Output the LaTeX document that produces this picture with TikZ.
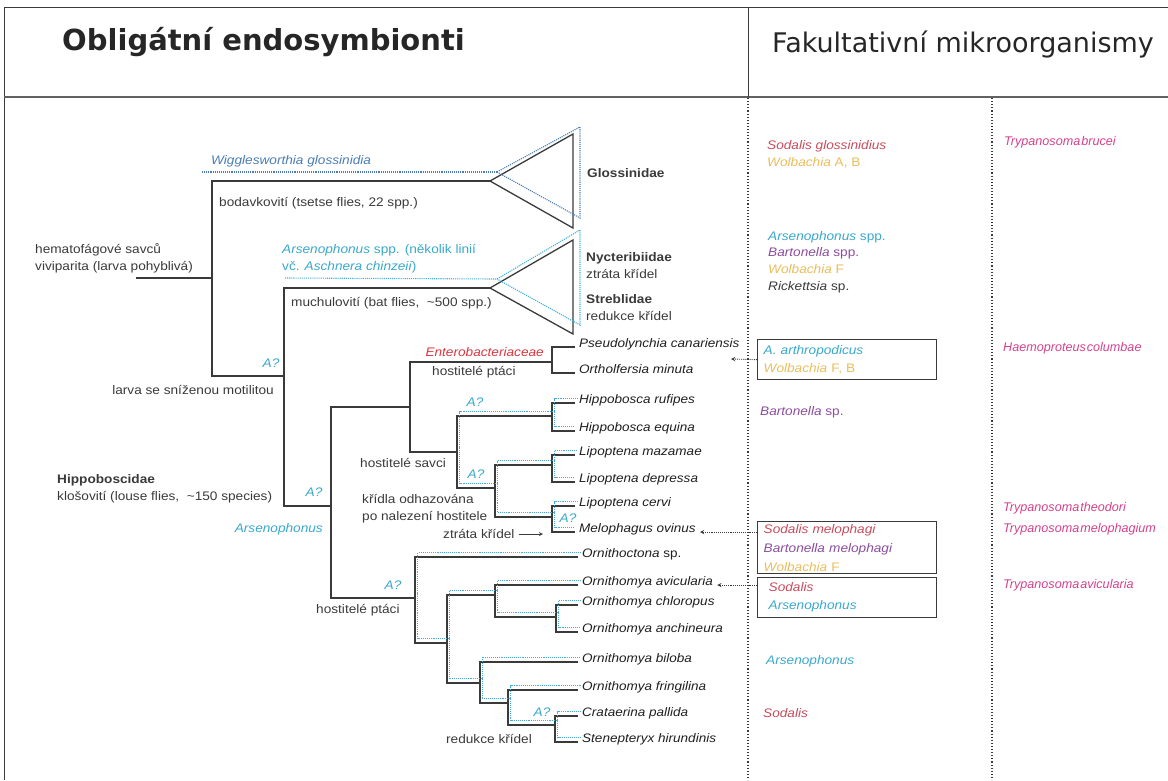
\documentclass[tikz,border=0pt]{standalone}
\usepackage{fontspec}
\setmainfont{Liberation Sans}[FakeStretch=1.1]
\newfontfamily\headfont{DejaVu Sans}
\newfontfamily\pinkfont{Liberation Sans}[WordSpace=0.3]
\usetikzlibrary{arrows,positioning,calc}

\definecolor{linegray}{HTML}{3A3A3A}
\definecolor{wigblue}{HTML}{4A7DB5}
\definecolor{arsblue}{HTML}{38A8CC}
\definecolor{arsline}{HTML}{40B0D8}
\definecolor{entred}{HTML}{D8363E}
\definecolor{sodred}{HTML}{C94B5C}
\definecolor{wolb}{HTML}{E8BE5C}
\definecolor{bart}{HTML}{8B4D9E}
\definecolor{trypink}{HTML}{D4418C}

\tikzset{
  branch/.style={draw=linegray, line width=1.3pt},
  arsdot/.style={draw=arsline, line width=1.1pt, densely dotted},
  wigdot/.style={draw=wigblue, line width=1.1pt, densely dotted},
  lbl/.style={inner sep=0pt, anchor=west, align=left, text=linegray,
    font=\fontsize{12.4}{17}\selectfont},
  leaf/.style={inner ysep=0pt, inner xsep=4pt, anchor=base west, text=black!88,
    font=\fontsize{12.3}{14}\selectfont\itshape},
  aq/.style={inner sep=0pt, text=arsblue, font=\fontsize{12.4}{14}\selectfont\itshape},
  pinktxt/.style={inner sep=0pt, anchor=west, text=trypink,
    font=\pinkfont\fontsize{12.6}{14}\selectfont\itshape},
  infobox/.style={draw=linegray, line width=1.3pt, anchor=north west, align=left,
    minimum width=179pt, text width=167pt, inner xsep=6pt, inner ysep=2pt,
    font=\fontsize{12.4}{18}\selectfont},
  refarrow/.style={draw=linegray, line width=0.9pt, densely dotted, ->, >=stealth},
}

\begin{document}
\begin{tikzpicture}[x=1pt, y=-1pt]
\useasboundingbox (0,0) rectangle (1168,780);

% frame and columns
\draw[linegray, line width=1pt] (1168,7) -- (4,7) -- (4,780);
\draw[linegray!80, line width=2.2pt] (4,97) -- (1168,97);
\draw[linegray, line width=0.8pt] (748,7) -- (748,97);
\draw[linegray, line width=1.1pt, dotted] (748,98) -- (748,780);
\draw[linegray, line width=1.1pt, dotted] (992,98) -- (992,780);

\node[anchor=base west, inner sep=0pt, text=black!85,
  font=\headfont\bfseries\fontsize{29}{30}\selectfont] (title) at (62,50) {Obligátní endosymbionti};
\node[anchor=base west, inner sep=0pt, text=black!85,
  font=\headfont\fontsize{27}{28}\selectfont] (fakult) at (772,52) {Fakultativní mikroorganismy};

% tree nodes
\coordinate (root) at (136,278);
\coordinate (n0) at (212,278);
\coordinate (glo) at (490,181);
\coordinate (nyc) at (490,288);
\coordinate (n1) at (284,376);
\coordinate (hip) at (331,506);
\coordinate (hpb) at (410,407);
\coordinate (ent) at (552,362);
\coordinate (mam) at (457,452);
\coordinate (hbo) at (552,416);
\coordinate (lmv) at (495,488);
\coordinate (lpt) at (552,465);
\coordinate (mlv) at (552,517);
\coordinate (orn) at (415,598);
\coordinate (omy) at (447,643);
\coordinate (oma) at (495,595);
\coordinate (omc) at (556,617);
\coordinate (omb) at (480,683);
\coordinate (omf) at (508,703);
\coordinate (cst) at (555,725);

% leaves
\node[leaf] (pse) at (575,347) {Pseudolynchia canariensis};
\node[leaf] (ort) at (575,373) {Ortholfersia minuta};
\node[leaf] (hru) at (575,403) {Hippobosca rufipes};
\node[leaf] (heq) at (575,431) {Hippobosca equina};
\node[leaf] (lma) at (575,455) {Lipoptena mazamae};
\node[leaf] (lde) at (575,482) {Lipoptena depressa};
\node[leaf] (lce) at (575,506) {Lipoptena cervi};
\node[leaf] (mov) at (575,532) {Melophagus ovinus};
\node[leaf] (osp) at (578,557) {Ornithoctona \upshape sp.};
\node[leaf] (oav) at (578,585) {Ornithomya avicularia};
\node[leaf] (och) at (578,605) {Ornithomya chloropus};
\node[leaf] (oan) at (578,632) {Ornithomya anchineura};
\node[leaf] (obi) at (578,662) {Ornithomya biloba};
\node[leaf] (ofr) at (578,690) {Ornithomya fringilina};
\node[leaf] (cpa) at (578,716) {Crataerina pallida};
\node[leaf] (sth) at (578,742) {Stenepteryx hirundinis};

% solid branches
\draw[branch] (root) -- (n0) |- (glo);
\draw[branch] (glo) -- ++(83,-47) -- ++(0,94) -- cycle;
\draw[branch] (n0) |- (n1);
\draw[branch] (n1) |- (nyc);
\draw[branch] (nyc) -- ++(83,-48) -- ++(0,94) -- cycle;
\draw[branch] (n1) |- (hip);
\draw[branch] (hip) |- (hpb) (hip) |- (orn);
\draw[branch] (hpb) |- (ent) (hpb) |- (mam);
\draw[branch] (ent) |- (pse.base west) (ent) |- (ort.base west);
\draw[branch] (mam) |- (hbo) (mam) |- (lmv);
\draw[branch] (hbo) |- (hru.base west) (hbo) |- (heq.base west);
\draw[branch] (lmv) |- (lpt) (lmv) |- (mlv);
\draw[branch] (lpt) |- (lma.base west) (lpt) |- (lde.base west);
\draw[branch] (mlv) |- (lce.base west) (mlv) |- (mov.base west);
\draw[branch] (orn) |- (osp.base west) (orn) |- (omy);
\draw[branch] (omy) |- (oma) (omy) |- (omb);
\draw[branch] (oma) |- (oav.base west) (oma) |- (omc);
\draw[branch] (omc) |- (och.base west) (omc) |- (oan.base west);
\draw[branch] (omb) |- (obi.base west) (omb) |- (omf);
\draw[branch] (omf) |- (ofr.base west) (omf) |- (cst);
\draw[branch] (cst) |- (cpa.base west) (cst) |- (sth.base west);

% Arsenophonus traces
\begin{scope}[transform canvas={xshift=2.5pt, yshift=4.5pt}]
  \draw[arsdot] (mam) |- (hbo) (mam) |- (lmv);
  \draw[arsdot, shorten >=3pt] (hbo) |- (hru.base west) (hbo) |- (heq.base west);
  \draw[arsdot] (lmv) |- (lpt) (lmv) |- (mlv);
  \draw[arsdot, shorten >=3pt] (lpt) |- (lma.base west) (lpt) |- (lde.base west);
  \draw[arsdot, shorten >=3pt] (mlv) |- (lce.base west) (mlv) |- (mov.base west);
  \draw[arsdot] (orn) |- (osp.base west) (orn) |- (omy);
  \draw[arsdot] (omy) |- (oma) (omy) |- (omb);
  \draw[arsdot] (oma) |- (oav.base west) (oma) |- (omc);
  \draw[arsdot] (omc) |- (och.base west) (omc) |- (oan.base west);
  \draw[arsdot] (omb) |- (obi.base west) (omb) |- (omf);
  \draw[arsdot] (omf) |- (ofr.base west) (omf) |- (cst);
  \draw[arsdot] (cst) |- (cpa.base west) (cst) |- (sth.base west);
\end{scope}

\coordinate (wg0) at (202,172);
\coordinate (wg1) at (497,172);
\draw[wigdot] (wg0) -- (wg1);
\draw[wigdot] (wg1) -- ++(83,-45) -- ++(0,91) -- cycle;
\coordinate (ab0) at (285,278);
\coordinate (ab1) at (497,279);
\draw[arsdot] (ab0) -- (ab1);
\draw[arsdot] (ab1) -- ++(83,-49) -- ++(0,95) -- cycle;

% labels on the tree
\node[lbl] (hema) at (35,258) {hematofágové savců\\viviparita (larva pohyblivá)};
\node[lbl, text=wigblue, font=\fontsize{12.4}{17}\selectfont\itshape] (wig) at (211,161) {Wigglesworthia glossinidia};
\node[lbl] (bod) at (219,203) {bodavkovití (tsetse flies, 22 spp.)};
\node[lbl, text=arsblue] (arsb) at (282,258.5) {\textit{Arsenophonus} spp. (několik linií\\vč. \textit{Aschnera chinzeii})};
\node[lbl] (much) at (291,303) {muchulovití (bat flies,\ \ \textasciitilde500 spp.)};
\node[lbl, font=\fontsize{12.4}{17}\selectfont\bfseries] (glol) at (587,173) {Glossinidae};
\node[lbl] (nycl) at (586,265.5) {\textbf{Nycteribiidae}\\ztráta křídel};
\node[lbl] (strl) at (586,307.5) {\textbf{Streblidae}\\redukce křídel};
\node[aq] (aq1) at (271,363) {A?};
\node[lbl, anchor=east] (larva) at (274,390) {larva se sníženou motilitou};
\node[lbl, text=entred, font=\fontsize{12.4}{17}\selectfont\itshape, anchor=east] (entl) at (544,352) {Enterobacteriaceae};
\node[lbl] (ptaci1) at (432,372) {hostitelé ptáci};
\node[aq] (aq3) at (475,402) {A?};
\node[lbl] (savci) at (360,463) {hostitelé savci};
\node[aq] (aq4) at (476,474) {A?};
\node[lbl, font=\fontsize{12.4}{16.5}\selectfont] (hipl) at (57,489) {\textbf{Hippoboscidae}\\klošovití (louse flies,\ \ \textasciitilde150 species)};
\node[aq] (aq2) at (314,492) {A?};
\node[lbl] (kridla) at (362,509) {křídla odhazována\\po nalezení hostitele};
\node[aq] (aq5) at (568,518) {A?};
\node[lbl, text=arsblue, font=\fontsize{12.4}{17}\selectfont\itshape, anchor=east] (arsh) at (323,529) {Arsenophonus};
\node[lbl] (ztr) at (443,534) {ztráta křídel};
\coordinate (ztip) at (543,534);
\draw[linegray, line width=0.8pt, ->, >=stealth, shorten <=4pt] (ztr.east) -- (ztip);
\node[aq] (aq6) at (393,585) {A?};
\node[lbl] (ptaci2) at (316,610) {hostitelé ptáci};
\node[aq] (aq7) at (542,712) {A?};
\node[lbl] (redl) at (446,739) {redukce křídel};

% facultative column
\node[lbl] (fac1) at (767,154.5) {{\color{sodred}\itshape Sodalis glossinidius}\\{\color{wolb}\textit{Wolbachia} A, B}};
\node[lbl, font=\fontsize{12.4}{16.7}\selectfont] (fac2) at (768,262) {{\color{arsblue}\textit{Arsenophonus} spp.}\\{\color{bart}\textit{Bartonella} spp.}\\{\color{wolb}\textit{Wolbachia} F}\\{\color{linegray}\textit{Rickettsia} sp.}};
\node[infobox, minimum height=40pt] (box1) at (757,339) {{\color{arsblue}\itshape A. arthropodicus}\\{\color{wolb}\textit{Wolbachia} F, B}};
\node[lbl, text=bart] (bartl) at (760,412) {\textit{Bartonella} sp.};
\node[infobox, minimum height=52pt, font=\fontsize{12.4}{19}\selectfont] (box2) at (757,521) {{\color{sodred}\itshape Sodalis melophagi}\\{\color{bart}\itshape Bartonella melophagi}\\{\color{wolb}\textit{Wolbachia} F}};
\node[infobox, minimum height=40pt] (box3) at (757,577) {\hspace*{5pt}{\color{sodred}\itshape Sodalis}\\\hspace*{5pt}{\color{arsblue}\itshape Arsenophonus}};
\node[lbl, text=arsblue, font=\fontsize{12.4}{17}\selectfont\itshape] (arsl) at (766,661) {Arsenophonus};
\node[lbl, text=sodred, font=\fontsize{12.4}{17}\selectfont\itshape] (sodl) at (763,713) {Sodalis};

\coordinate (psetip) at (731,359);
\draw[refarrow] (box1.west) -- (psetip);
\draw[refarrow] (box2.west |- mov.base) -- (mov.base east);
\draw[refarrow] (box3.west |- oav.base) -- (oav.base east);

% parasites column
\node[pinktxt] (tbr) at (1004,142) {Trypanosoma brucei};
\node[pinktxt] (hco) at (1003,348) {Haemoproteus columbae};
\node[pinktxt] (tth) at (1003,508) {Trypanosoma theodori};
\node[pinktxt] (tme) at (1003,529) {Trypanosoma melophagium};
\node[pinktxt] (tav) at (1003,585) {Trypanosoma avicularia};
\end{tikzpicture}
\end{document}
